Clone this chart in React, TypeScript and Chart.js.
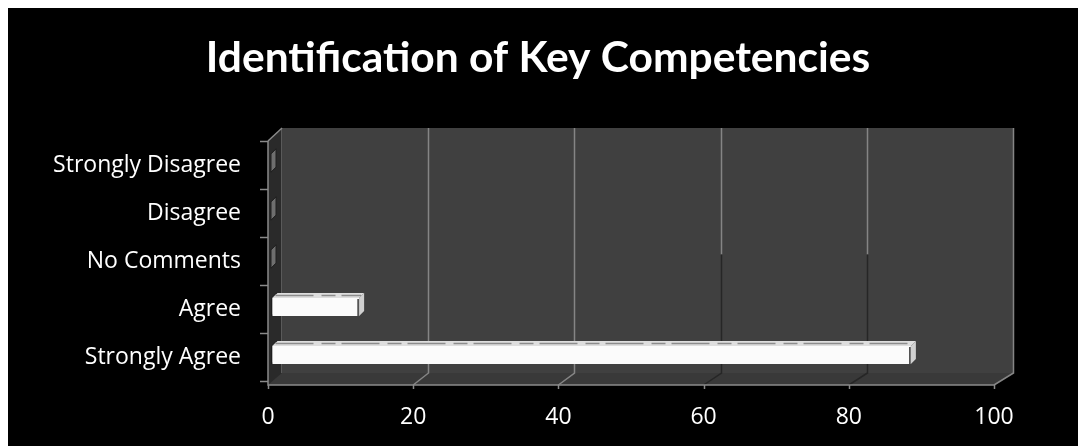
import React, { useEffect, useRef } from 'react';
import { Chart, registerables } from 'chart.js';

Chart.register(...registerables);

const TITLE = 'Identification of Key Competencies';
const responses = ['Strongly Disagree', 'Disagree', 'No Comments', 'Agree', 'Strongly Agree'];
const percentages = [0, 0, 0, 12, 88];
const xTickStep = 20;
const xMin = 0;
const xMax = 100;

const TITLE_FONT = 'Lato, "Open Sans", sans-serif';
const FONT = '"Open Sans", Lato, sans-serif';

// depth of the 3-D box behind the plot
const DEPTH_X = 14;
const DEPTH_Y = 13;
const FLOOR_DROP = 4;
// bars sit part way into the box
const BAR_SHIFT_X = 4;
const BAR_SHIFT_Y = -2;
const BAR_DEPTH = 5;

const boxPlugin = {
  id: 'box3d',
  beforeDraw(chart: any) {
    const { ctx, chartArea } = chart;
    const xs = chart.scales.x;
    const L = chartArea.left;
    const R = chartArea.right;
    const T = chartArea.top;
    const Bf = chartArea.bottom + FLOOR_DROP;
    const backTop = T - DEPTH_Y;
    const backBottom = Bf - 12;
    const back = (v: number) => xs.getPixelForValue(v) + DEPTH_X + (5 * (v - xMin)) / (xMax - xMin);
    const RB = back(xMax);

    ctx.save();
    // title
    ctx.fillStyle = '#ffffff';
    ctx.font = `bold 42.5px ${TITLE_FONT}`;
    ctx.textAlign = 'center';
    ctx.textBaseline = 'middle';
    ctx.fillText(TITLE, chart.width / 2 - 5, 50);

    // visible interior of the box
    ctx.fillStyle = '#404040';
    ctx.beginPath();
    ctx.moveTo(L, T);
    ctx.lineTo(L + DEPTH_X, backTop);
    ctx.lineTo(RB, backTop);
    ctx.lineTo(RB, backBottom);
    ctx.lineTo(R, Bf);
    ctx.lineTo(L, Bf);
    ctx.closePath();
    ctx.fill();

    // floor
    ctx.fillStyle = '#393939';
    ctx.beginPath();
    ctx.moveTo(L, Bf);
    ctx.lineTo(L + DEPTH_X, backBottom);
    ctx.lineTo(RB, backBottom);
    ctx.lineTo(R, Bf);
    ctx.closePath();
    ctx.fill();

    // left wall
    ctx.fillStyle = '#2a2a2a';
    ctx.beginPath();
    ctx.moveTo(L, T);
    ctx.lineTo(L + DEPTH_X, backTop);
    ctx.lineTo(L + DEPTH_X, backBottom);
    ctx.lineTo(L, Bf);
    ctx.closePath();
    ctx.fill();
    ctx.strokeStyle = '#5a5a5a';
    ctx.lineWidth = 1;
    ctx.beginPath();
    ctx.moveTo(L + DEPTH_X - 0.5, backTop);
    ctx.lineTo(L + DEPTH_X - 0.5, backBottom);
    ctx.stroke();

    // vertical gridlines on the back wall, folding down over the floor
    const mid = (backTop + backBottom) / 2 + 4;
    xs.ticks.forEach((t: any) => {
      const v = t.value;
      if (v <= xMin) return;
      const bx = Math.round(back(v)) + 0.5;
      const fx = xs.getPixelForValue(v);
      ctx.lineWidth = 1.5;
      ctx.strokeStyle = '#858585';
      ctx.beginPath();
      ctx.moveTo(bx, backTop);
      if (v >= 60 && v < xMax) {
        ctx.lineTo(bx, mid);
        ctx.stroke();
        ctx.strokeStyle = '#262626';
        ctx.beginPath();
        ctx.moveTo(bx, mid);
      }
      ctx.lineTo(bx, backBottom);
      ctx.lineTo(fx, Bf);
      ctx.stroke();
    });

    // axis lines and tick marks
    ctx.strokeStyle = '#8a8a8a';
    ctx.lineWidth = 1.5;
    ctx.beginPath();
    ctx.moveTo(L, T);
    ctx.lineTo(L, Bf);
    ctx.lineTo(R, Bf);
    ctx.stroke();
    ctx.beginPath();
    ctx.moveTo(L, T);
    ctx.lineTo(L + DEPTH_X, backTop);
    ctx.stroke();
    const n = responses.length;
    for (let i = 0; i <= n; i++) {
      const y = Math.round(T + ((chartArea.bottom - T) * i) / n) + 0.5;
      ctx.beginPath();
      ctx.moveTo(L - 8, y);
      ctx.lineTo(L, y);
      ctx.stroke();
    }
    xs.ticks.forEach((t: any) => {
      const x = Math.round(xs.getPixelForValue(t.value)) + 0.5;
      ctx.beginPath();
      ctx.moveTo(x, Bf);
      ctx.lineTo(x, Bf + 4);
      ctx.stroke();
    });
    ctx.restore();
  },
  beforeDatasetsDraw(chart: any) {
    const { ctx } = chart;
    const meta = chart.getDatasetMeta(0);
    ctx.save();
    ctx.translate(BAR_SHIFT_X, BAR_SHIFT_Y);
    // flat end caps of every bar against the left wall
    meta.data.forEach((bar: any) => {
      const { y, base, height } = bar.getProps(['y', 'base', 'height'], true);
      const top = y - height / 2;
      const bottom = y + height / 2;
      const d = BAR_DEPTH;
      ctx.fillStyle = '#6e6e6e';
      ctx.beginPath();
      ctx.moveTo(base - 1, top);
      ctx.lineTo(base - 1 + d, top - d);
      ctx.lineTo(base - 1 + d, bottom - d);
      ctx.lineTo(base - 1, bottom);
      ctx.closePath();
      ctx.fill();
      ctx.strokeStyle = '#1e1e1e';
      ctx.lineWidth = 1;
      ctx.stroke();
    });
  },
  afterDatasetsDraw(chart: any) {
    const { ctx } = chart;
    const meta = chart.getDatasetMeta(0);
    meta.data.forEach((bar: any, i: number) => {
      if (!percentages[i]) return;
      const { x, y, base, height } = bar.getProps(['x', 'y', 'base', 'height'], true);
      const top = y - height / 2;
      const bottom = y + height / 2;
      const d = BAR_DEPTH;
      // top face
      ctx.fillStyle = '#dedede';
      ctx.beginPath();
      ctx.moveTo(base, top);
      ctx.lineTo(base + d, top - d);
      ctx.lineTo(x + d, top - d);
      ctx.lineTo(x, top);
      ctx.closePath();
      ctx.fill();
      ctx.strokeStyle = '#8c8c8c';
      ctx.lineWidth = 1.5;
      ctx.setLineDash([38, 8, 14, 6]);
      ctx.beginPath();
      ctx.moveTo(base + 3, top - 2.5);
      ctx.lineTo(x + 2, top - 2.5);
      ctx.stroke();
      ctx.setLineDash([]);
      // end face
      ctx.fillStyle = '#d0d0d0';
      ctx.beginPath();
      ctx.moveTo(x, top);
      ctx.lineTo(x + d, top - d);
      ctx.lineTo(x + d, bottom - d);
      ctx.lineTo(x, bottom);
      ctx.closePath();
      ctx.fill();
      ctx.strokeStyle = '#3a3a3a';
      ctx.lineWidth = 1.5;
      ctx.beginPath();
      ctx.moveTo(x - 1, top + 1);
      ctx.lineTo(x - 1, bottom);
      ctx.stroke();
    });
    ctx.restore();
  },
};

export default function App() {
  const canvasRef = useRef<HTMLCanvasElement | null>(null);

  useEffect(() => {
    if (!canvasRef.current) return;
    const chart = new Chart(canvasRef.current, {
      type: 'bar',
      data: {
        labels: responses,
        datasets: [
          {
            data: percentages,
            backgroundColor: '#fbfbfb',
            borderWidth: 0,
            categoryPercentage: 1,
            barPercentage: 0.38,
          },
        ],
      },
      options: {
        indexAxis: 'y',
        animation: false,
        responsive: false,
        maintainAspectRatio: false,
        layout: { padding: { top: 133, right: 84, left: 0, bottom: 0 } },
        plugins: {
          legend: { display: false },
          title: { display: false },
          tooltip: { enabled: false },
        },
        scales: {
          x: {
            type: 'linear',
            min: xMin,
            max: xMax,
            ticks: {
              stepSize: xTickStep,
              color: '#ffffff',
              font: { family: FONT, size: 23 },
              padding: 23,
            },
            grid: { display: true, color: 'rgba(0,0,0,0)', drawTicks: false },
            border: { display: false },
            afterFit(scale: any) {
              scale.height = 65;
            },
          },
          y: {
            type: 'category',
            offset: true,
            ticks: {
              color: '#ffffff',
              font: { family: FONT, size: 23 },
              padding: 27,
            },
            grid: { display: true, color: 'rgba(0,0,0,0)', drawTicks: false, offset: true },
            border: { display: false },
            afterFit(scale: any) {
              scale.width = 260;
            },
          },
        },
      },
      plugins: [boxPlugin],
    });
    return () => chart.destroy();
  }, []);

  return (
    <div
      style={{
        position: 'fixed',
        left: 8,
        top: 8,
        width: 1070,
        height: 438,
        background: '#000000',
      }}
    >
      <canvas ref={canvasRef} width={1070} height={438} style={{ display: 'block' }} />
    </div>
  );
}
